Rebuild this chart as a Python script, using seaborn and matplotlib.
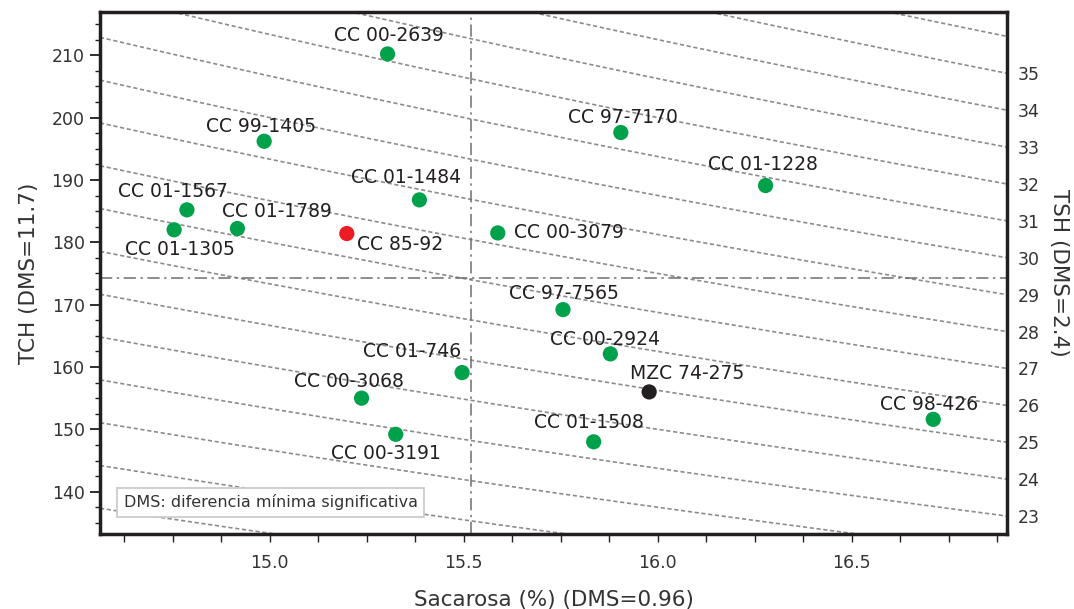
import numpy as np
import pandas as pd
import matplotlib
matplotlib.use("Agg")
import matplotlib.pyplot as plt
import seaborn as sns
from matplotlib.ticker import MultipleLocator, FormatStrFormatter

# data
variedad = ["CC 00-2639", "CC 99-1405", "CC 97-7170", "CC 01-1228", "CC 01-1484",
            "CC 01-1567", "CC 01-1305", "CC 01-1789", "CC 85-92", "CC 00-3079",
            "CC 97-7565", "CC 00-2924", "MZC 74-275", "CC 01-746", "CC 00-3068",
            "CC 00-3191", "CC 01-1508", "CC 98-426"]
sacarosa = [15.304, 14.986, 15.905, 16.278, 15.386, 14.787, 14.754, 14.917, 15.199, 15.588,
            15.756, 15.878, 15.978, 15.496, 15.237, 15.325, 15.835, 16.710]
tch = [210.2, 196.2, 197.6, 189.1, 186.8, 185.2, 182.0, 182.2, 181.4, 181.5,
       169.2, 162.1, 156.0, 159.1, 155.0, 149.2, 148.0, 151.6]
grupo = ["nueva"] * 8 + ["testigo"] + ["nueva"] * 3 + ["MZC"] + ["nueva"] * 5
media_sacarosa = 15.52
media_tch = 174.2
tsh_lineas = list(range(18, 39))
tsh_ticks = list(range(23, 36))

# label offsets in pixels (dx, dy)
offsets = [(1, 18), (-3, 15), (2, 15), (-3, 21), (-13, 22), (-14, 18), (6, -20), (40, 17),
           (53, -11), (71, 0), (1, 16), (-5, 14), (38, 18), (-50, 21), (-13, 17),
           (-10, -19), (-5, 19), (-4, 15)]

df = pd.DataFrame({"variedad": variedad, "sacarosa": sacarosa, "tch": tch, "grupo": grupo})

sns.set_style("ticks")
plt.rcParams["font.family"] = ["DejaVu Sans"]

xlim = (14.563, 16.90)
ylim = (133.2, 216.9)
ink = "#231f20"

fig = plt.figure(figsize=(10.74, 6.09), dpi=100)
ax = fig.add_axes([0.0931, 0.123, 0.8445, 0.857])

# iso-TSH curves
xs = np.linspace(xlim[0], xlim[1], 200)
for k in tsh_lineas:
    ax.plot(xs, 100 * k / xs, ls=(0, (2.5, 1.6)), color="#8c8c8c", lw=1.2, zorder=1)

ax.axvline(media_sacarosa, color="#6e6e6e", lw=1.1, ls=(0, (8, 3, 1.5, 3)), zorder=1)
ax.axhline(media_tch, color="#6e6e6e", lw=1.1, ls=(0, (8, 3, 1.5, 3)), zorder=1)

sns.scatterplot(data=df, x="sacarosa", y="tch", hue="grupo",
                palette={"nueva": "#00a14b", "testigo": "#ed1c24", "MZC": ink},
                s=120, edgecolor="none", legend=False, ax=ax, zorder=3)

for name, x, y, (dx, dy) in zip(variedad, sacarosa, tch, offsets):
    ax.annotate(name, (x, y), xytext=(dx, dy), textcoords="offset pixels",
                ha="center", va="center", fontsize=13.5, color=ink, zorder=4)

ax.set_xlim(xlim)
ax.set_ylim(ylim)
ax.xaxis.set_major_locator(MultipleLocator(0.5))
ax.xaxis.set_minor_locator(MultipleLocator(0.125))
ax.yaxis.set_major_locator(MultipleLocator(10))
ax.yaxis.set_minor_locator(MultipleLocator(2.5))
ax.xaxis.set_major_formatter(FormatStrFormatter("%.1f"))
ax.tick_params(axis="x", which="both", length=6, width=1.0, pad=8, labelsize=12.5,
               colors=ink, labelcolor="#333333")
ax.tick_params(axis="y", which="major", length=7, width=1.3, pad=4, labelsize=12.5,
               colors=ink, labelcolor="#333333")
ax.tick_params(axis="y", which="minor", length=3.5, width=1.0, colors=ink)
ax.set_xlabel("Sacarosa (%) (DMS=0.96)", fontsize=15.5, color="#333333", labelpad=13)
ax.set_ylabel("TCH (DMS=11.7)", fontsize=15.5, color="#333333", labelpad=9)
for sp in ax.spines.values():
    sp.set_linewidth(2.5)
    sp.set_color(ink)
    sp.set_visible(True)

ax2 = ax.twinx()
ax2.set_ylim(ylim[0] * xlim[1] / 100, ylim[1] * xlim[1] / 100)
ax2.set_yticks(tsh_ticks)
ax2.tick_params(length=0, pad=8, labelsize=12.5, labelcolor="#333333")
ax2.set_ylabel("TSH (DMS=2.4)", fontsize=15.5, color="#333333", rotation=-90, labelpad=21)
for sp in ax2.spines.values():
    sp.set_visible(False)

ax.text(0.026, 0.061, "DMS: diferencia mínima significativa", transform=ax.transAxes,
        fontsize=11.5, color="#333333", va="center", ha="left",
        bbox=dict(boxstyle="square,pad=0.4", fc="white", ec="#cccccc", lw=1.3), zorder=5)

fig.savefig("out.png", dpi=100)
